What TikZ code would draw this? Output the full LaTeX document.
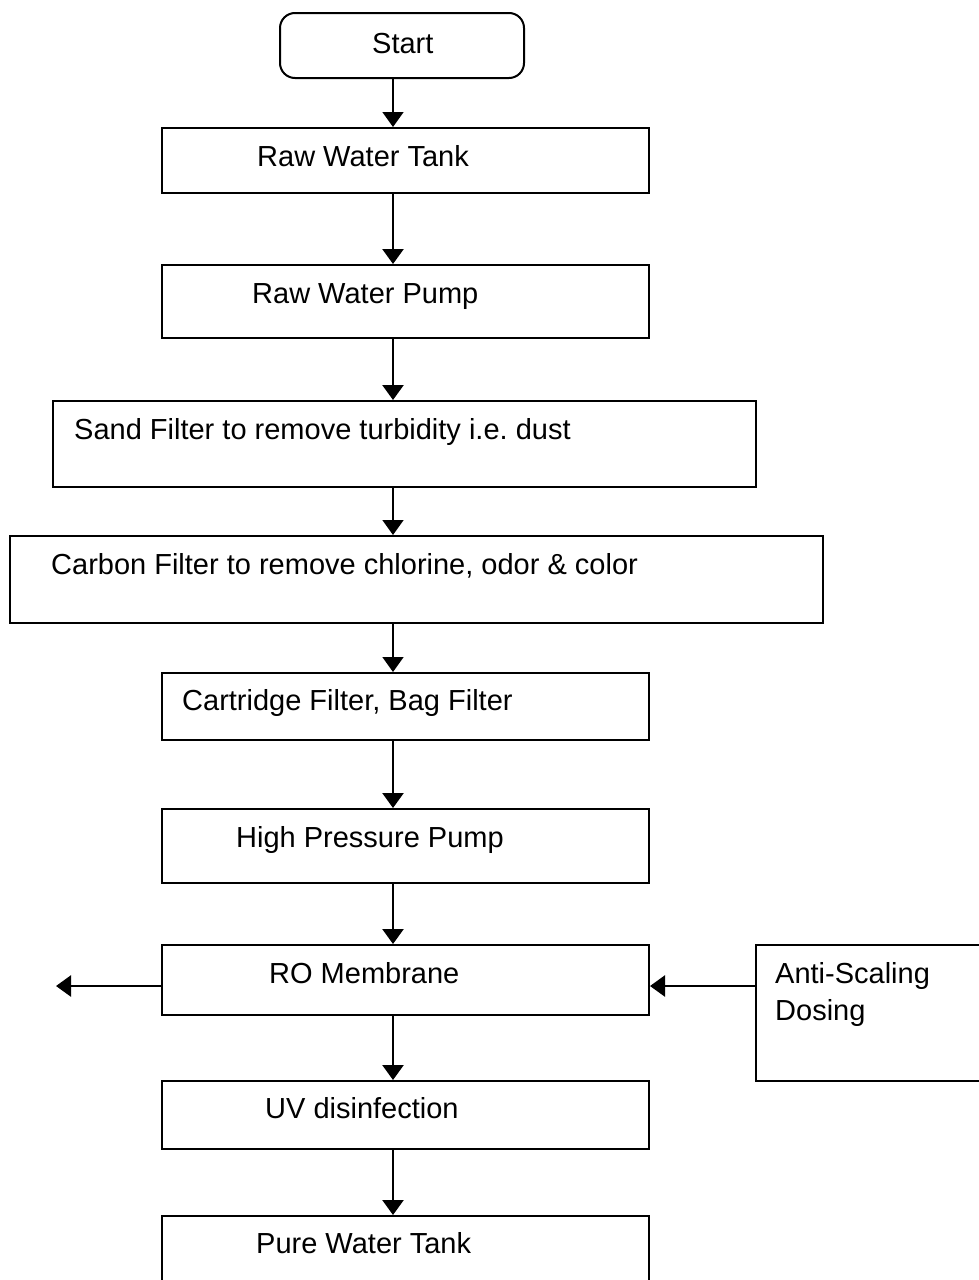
\documentclass[tikz,border=0pt]{standalone}
\usepackage{fontspec}
\setmainfont{Liberation Sans}
\usetikzlibrary{arrows.meta}
\frenchspacing
\begin{document}
\begin{tikzpicture}[x=1pt,y=-1pt,
  box/.style={draw=black, line width=2pt, inner sep=0pt, anchor=north west},
  rbox/.style={box, rounded corners=15pt},
  lbl/.style={anchor=base west, inner sep=0pt, font=\fontsize{29}{34}\selectfont},
  arr/.style={line width=2.5pt, -{Triangle[width=21pt,length=15pt]}},
  tarr/.style={line width=1.6pt, -{Triangle[width=21pt,length=15pt]}}]
\useasboundingbox (0,0) rectangle (979,1280);
\fill[white] (0,0) rectangle (979,1280);
% boxes
\node[rbox, minimum width=244pt, minimum height=65pt] (start) at (279,12) {};
\node[box, minimum width=487pt, minimum height=65pt] (rwt) at (161,127) {};
\node[box, minimum width=487pt, minimum height=73pt] (rwp) at (161,264) {};
\node[box, minimum width=703pt, minimum height=86pt] (sand) at (52,400) {};
\node[box, minimum width=813pt, minimum height=87pt] (carbon) at (9,535) {};
\node[box, minimum width=487pt, minimum height=67pt] (cart) at (161,672) {};
\node[box, minimum width=487pt, minimum height=74pt] (hpp) at (161,808) {};
\node[box, minimum width=487pt, minimum height=70pt] (ro) at (161,944) {};
\node[box, minimum width=260pt, minimum height=136pt] (anti) at (755,944) {};
\node[box, minimum width=487pt, minimum height=68pt] (uv) at (161,1080) {};
\node[box, minimum width=487pt, minimum height=90pt] (pure) at (161,1215) {};
% labels
\node[lbl] (tstart) at (372,53) {Start};
\node[lbl] (trwt) at (257,166) {Raw Water Tank};
\node[lbl] (trwp) at (252,303) {Raw Water Pump};
\node[lbl] (tsand) at (74,439) {Sand Filter to remove turbidity i.e. dust};
\node[lbl] (tcarbon) at (51,574) {Carbon Filter to remove chlorine, odor \& color};
\node[lbl] (tcart) at (182,710) {Cartridge Filter, Bag Filter};
\node[lbl] (thpp) at (236,847) {High Pressure Pump};
\node[lbl] (tro) at (269,983) {RO Membrane};
\node[lbl] (tanti1) at (775,983) {Anti-Scaling};
\node[lbl] (tanti2) at (775,1020) {Dosing};
\node[lbl] (tuv) at (265,1118) {UV disinfection};
\node[lbl] (tpure) at (256,1253) {Pure Water Tank};
% connectors
\coordinate (ax) at (393,0);
\coordinate (hy) at (0,986);
\coordinate (rej) at (56,986);
\draw[tarr] (start.south -| ax) -- (rwt.north -| ax);
\draw[arr] (rwt.south -| ax) -- (rwp.north -| ax);
\draw[arr] (rwp.south -| ax) -- (sand.north -| ax);
\draw[tarr] (sand.south -| ax) -- (carbon.north -| ax);
\draw[tarr] (carbon.south -| ax) -- (cart.north -| ax);
\draw[arr] (cart.south -| ax) -- (hpp.north -| ax);
\draw[arr] (hpp.south -| ax) -- (ro.north -| ax);
\draw[arr] (ro.south -| ax) -- (uv.north -| ax);
\draw[arr] (uv.south -| ax) -- (pure.north -| ax);
\draw[arr] (ro.west |- hy) -- (rej);
\draw[arr] (anti.west |- hy) -- (ro.east |- hy);
\end{tikzpicture}
\end{document}
